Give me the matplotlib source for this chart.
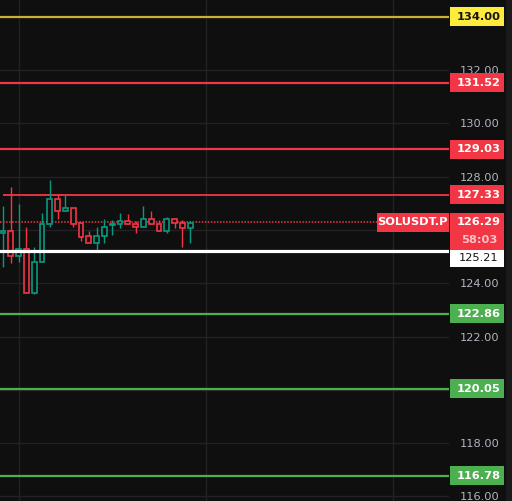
import matplotlib
matplotlib.use("Agg")
import matplotlib.pyplot as plt
from matplotlib.patches import Rectangle
from matplotlib.transforms import blended_transform_factory
import numpy as np

# candle data
opens  = [125.87, 125.98, 125.01, 125.27, 123.62, 124.78, 126.21, 127.15, 126.73, 126.81,
          126.25, 125.76, 125.53, 125.76, 126.17, 126.21, 126.32, 126.21, 126.13, 126.43,
          126.21, 125.98, 126.43, 126.28, 126.06]
highs  = [126.90, 127.60, 126.97, 126.11, 125.35, 126.63, 127.87, 127.31, 127.31, 126.81,
          126.25, 125.95, 126.13, 126.43, 126.36, 126.63, 126.60, 126.32, 126.90, 126.71,
          126.36, 126.47, 126.43, 126.36, 126.32]
lows   = [124.62, 124.75, 124.78, 123.62, 123.58, 124.78, 126.10, 126.41, 126.73, 126.12,
          125.57, 125.50, 125.23, 125.50, 125.83, 126.06, 126.21, 125.87, 126.10, 126.21,
          125.98, 125.87, 126.06, 125.38, 125.53]
closes = [125.98, 125.01, 125.27, 123.62, 124.78, 126.21, 127.15, 126.73, 126.81, 126.21,
          125.72, 125.53, 125.76, 126.13, 126.21, 126.32, 126.21, 126.13, 126.40, 126.21,
          125.98, 126.43, 126.25, 126.06, 126.28]

# horizontal levels
red_levels = [131.52, 129.03]
green_levels = [122.86, 120.05, 116.78]
yellow_level = 134.00
short_level = 127.33
support_level = 125.21
last_price = 126.29
countdown = "58:03"
symbol = "SOLUSDT.P"
yticks = [116, 118, 120, 122, 124, 126, 128, 130, 132, 134]
hidden_ticks = [120, 126, 134]  # covered by the price labels

BG = "#0f0f0f"
GRID = "#222222"
UP = "#089981"
DOWN = "#f23645"
GREEN = "#4caf50"
YEL_LINE = "#c9b037"
YEL_LABEL = "#ffeb3b"
AXTXT = "#b2b5be"
FS = 8.2

W, H = 512, 501
fig = plt.figure(figsize=(W / 100, H / 100), dpi=100, facecolor=BG)
ax = fig.add_axes([0, 0, 449 / W, 1])
ax.set_facecolor(BG)

ymin, ymax = 115.83, 134.63
xmin, xmax = -0.385, 57.18
ax.set_ylim(ymin, ymax)
ax.set_xlim(xmin, xmax)
upx = (ymax - ymin) / H  # price units per pixel

# grid
ax.set_xticks([2, 26, 50])
ax.set_xticklabels([])
ax.set_yticks(yticks)
ax.set_yticklabels(["" if t in hidden_ticks else f"{t:.2f}" for t in yticks])
ax.grid(True, color=GRID, linewidth=1)
ax.set_axisbelow(True)
ax.yaxis.tick_right()
ax.tick_params(axis="y", length=0, pad=8, labelsize=FS, labelcolor=AXTXT)
ax.tick_params(axis="x", length=0)
for s in ax.spines.values():
    s.set_visible(False)

# levels
ax.axhline(yellow_level, color=YEL_LINE, lw=1.6, zorder=2)
for lv in red_levels:
    ax.axhline(lv, color=DOWN, lw=1.6, zorder=2)
ax.hlines(short_level, 0, xmax, color=DOWN, lw=1.3, zorder=2)
for lv in green_levels:
    ax.axhline(lv, color=GREEN, lw=1.6, zorder=2)
ax.axhline(last_price, xmin=0, xmax=377 / 449, color=DOWN, lw=1.1,
           linestyle=(0, (1, 1)), zorder=2)

# candles
x = np.arange(len(opens))
o = np.array(opens); c = np.array(closes)
colors = [UP if cc >= oo else DOWN for oo, cc in zip(o, c)]
ax.vlines(x, lows, highs, colors=colors, lw=1, zorder=3)
bottoms = np.minimum(o, c)
heights = np.maximum(np.abs(c - o), 0.03)
ax.bar(x, heights, bottom=bottoms, width=0.6, facecolor=BG, edgecolor=colors,
       linewidth=1.2, zorder=4)

# white support line over the candles
ax.axhline(support_level, color="white", lw=2.3, zorder=5)

# price axis labels
tr = blended_transform_factory(fig.transFigure, ax.transData)
bx0, bw = 450 / W, 54 / W
tx = 479 / W


def price_label(price, text, face, tcolor, top_px=9.5, bot_px=9.5):
    r = Rectangle((bx0, price - bot_px * upx), bw, (top_px + bot_px) * upx,
                  transform=tr, facecolor=face, edgecolor="none",
                  clip_on=False, zorder=10)
    ax.add_patch(r)
    ax.text(tx, price, text, transform=tr, ha="center", va="center",
            fontsize=FS, color=tcolor, fontweight="bold", clip_on=False, zorder=11)


price_label(yellow_level, f"{yellow_level:.2f}", YEL_LABEL, "#131313")
for lv in red_levels:
    price_label(lv, f"{lv:.2f}", DOWN, "white")
price_label(short_level, f"{short_level:.2f}", DOWN, "white")
for lv in green_levels:
    price_label(lv, f"{lv:.2f}", GREEN, "white")

# current price block (two lines) + symbol tag
top_px, bot_px = 9.5, 27.3
ax.add_patch(Rectangle((bx0, last_price - bot_px * upx), bw, (top_px + bot_px) * upx,
                       transform=tr, facecolor=DOWN, edgecolor="none",
                       clip_on=False, zorder=10))
ax.text(tx, last_price, f"{last_price:.2f}", transform=tr, ha="center", va="center",
        fontsize=FS, color="white", fontweight="bold", clip_on=False, zorder=11)
ax.text(tx, last_price - 18 * upx, countdown, transform=tr, ha="center", va="center",
        fontsize=FS, color="#ffc2c7", fontweight="bold", clip_on=False, zorder=11)
ax.add_patch(Rectangle((377 / W, last_price - 9.5 * upx), 71.7 / W,
                       19 * upx, transform=tr, facecolor=DOWN, edgecolor="none",
                       clip_on=False, zorder=10))
ax.text(412.8 / W, last_price, symbol, transform=tr, ha="center", va="center",
        fontsize=FS, color="white", fontweight="bold", clip_on=False, zorder=11)

# support label sits just under the current price block
sup_top = last_price - bot_px * upx
ax.add_patch(Rectangle((bx0, sup_top - 17 * upx), bw, 17 * upx, transform=tr,
                       facecolor="white", edgecolor="none", clip_on=False, zorder=10))
ax.text(tx, sup_top - 8.5 * upx, f"{support_level:.2f}", transform=tr, ha="center",
        va="center", fontsize=FS, color="#131313", clip_on=False, zorder=11)

# right edge strip
fig.patches.append(Rectangle((506 / W, 0), 6 / W, 1, transform=fig.transFigure,
                             facecolor="#1a1a1a", edgecolor="none"))

fig.savefig("out.png", dpi=100, facecolor=BG)
